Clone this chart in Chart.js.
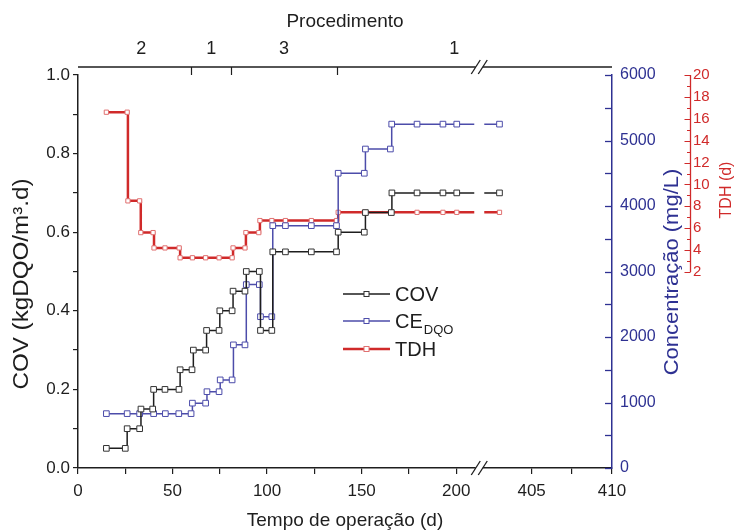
<!DOCTYPE html>
<html><head><meta charset="utf-8">
<script src="https://cdn.jsdelivr.net/npm/chart.js@4.4.1/dist/chart.umd.min.js"></script>
<style>html,body{margin:0;padding:0;background:#fff}</style>
</head><body>
<canvas id="c" width="740" height="532"></canvas>
<script>
// ---- data (days of operation, values) ----
const covDays = [15,25,26,32.6,33.3,39.5,40,46,53.4,54,60.3,61,67.5,68,74.6,75,81.5,82,88.3,89,95.9,96.5,102.5,103,109.7,123.4,136.7,137.6,151.4,152,165.7,166,179.3,193,200.3,403];
const covValues = [0.05,0.05,0.10,0.10,0.15,0.15,0.20,0.20,0.20,0.25,0.25,0.30,0.30,0.35,0.35,0.40,0.40,0.45,0.45,0.50,0.50,0.35,0.35,0.55,0.55,0.55,0.55,0.60,0.60,0.65,0.65,0.70,0.70,0.70,0.70,0.70];
const ceDays = [15,26,32.6,40,46.2,53.3,59.8,60.5,67.5,68.2,74.6,75.2,81.5,82.2,88.3,89,95.9,96.5,102.5,103,109.7,123.4,136.7,137.6,151.4,152,165.2,165.9,179.3,193,200.3,403];
const ceValues = [830,830,830,830,830,830,830,990,990,1165,1165,1345,1345,1880,1880,2800,2800,2310,2310,3700,3700,3700,3700,4500,4500,4870,4870,5250,5250,5250,5250,5250];
const tdhDays = [15,26,26.4,32.6,33.2,39.7,40.2,46,53.5,54,60.5,67.5,74.6,81.5,82,88.3,88.8,95.6,96.2,102.5,109.7,123.4,136.7,137.6,151.4,165.7,179.3,193,200.3,403];
const tdhValues = [16.6,16.6,8.5,8.5,5.6,5.6,4.2,4.2,4.2,3.3,3.3,3.3,3.3,3.3,4.2,4.2,5.6,5.6,6.7,6.7,6.7,6.7,6.7,7.45,7.45,7.45,7.45,7.45,7.45,7.45];

const xTickValues = [0,50,100,150,200,405,410];
const xTickLabels = ['0','50','100','150','200','405','410'];
const xMinorValues = [25,75,125,175,407.5];
const procLabels = ['2','1','3','1'];
const procLabelDays = [33.5,70.5,109,199];
const procBoundaries = [60,81,137];
const covTicks = [0,0.1,0.2,0.3,0.4,0.5,0.6,0.7,0.8,0.9,1.0];
const concTicks = [0,500,1000,1500,2000,2500,3000,3500,4000,4500,5000,5500,6000];
const tdhTicks = [2,3,4,5,6,7,8,9,10,11,12,13,14,15,16,17,18,19,20];

const seriesLabels = ['COV','CE','TDH'];
const ceSub = 'DQO';
const xTitle = 'Tempo de operação (d)';
const topTitle = 'Procedimento';
const yTitle = 'COV (kgDQO/m³.d)';
const concTitle = 'Concentração (mg/L)';
const tdhTitle = 'TDH (d)';

// broken x axis: 0..~212 then 400..410
const seg = {preEnd: 212.2, postStart: 405, postU: 239.9, postScale: 8.5};
function toU(d){ return d <= seg.preEnd ? d : seg.postU + (d - seg.postStart) * seg.postScale; }
const X_MAX = toU(410);

const FONT = "'Liberation Sans', Arial, Helvetica, sans-serif";
Chart.defaults.font.family = FONT;
const BLACK = '#1e1e1e', NAVY = '#2e3192', BLUE = '#4c4caa', RED = '#d02a2a';

function pts(days, vals){ return days.map((d,i)=>({x: toU(d), y: vals[i]})); }

function vText(ctx, text, cx, cy, size, color, stretch){
  ctx.save();
  ctx.translate(cx, cy); ctx.rotate(-Math.PI/2); ctx.scale(stretch, 1);
  ctx.fillStyle = color; ctx.font = size + 'px ' + FONT;
  ctx.textAlign = 'center'; ctx.textBaseline = 'middle';
  ctx.fillText(text, 0, 0);
  ctx.restore();
}

const custom = {
  id: 'custom',
  afterDatasetsDraw(chart){
    const {ctx, chartArea: a, scales: {x}} = chart;
    const bx = x.getPixelForValue(seg.preEnd);
    ctx.save();
    ctx.fillStyle = '#fff';
    ctx.fillRect(bx - 5, a.top, 10, a.bottom - a.top - 1);
    ctx.restore();
  },
  afterDraw(chart){
    const {ctx, chartArea: a, scales} = chart;
    const x = scales.x, yC = scales.yC, yT = scales.yT;
    ctx.save();
    // top procedure line
    const y0 = a.top - 8;
    ctx.strokeStyle = BLACK; ctx.lineWidth = 1.5;
    ctx.beginPath(); ctx.moveTo(a.left, y0); ctx.lineTo(a.right, y0); ctx.stroke();
    ctx.lineWidth = 1.2;
    procBoundaries.forEach(d => {
      const px = Math.round(x.getPixelForValue(toU(d))) + 0.5;
      ctx.beginPath(); ctx.moveTo(px, y0); ctx.lineTo(px, y0 + 8); ctx.stroke();
    });
    // break marks
    const bx = x.getPixelForValue(seg.preEnd);
    [y0, a.bottom].forEach(yy => {
      ctx.fillStyle = '#fff';
      ctx.fillRect(bx - 3.5, yy - 2, 7, 4);
      ctx.strokeStyle = BLACK; ctx.lineWidth = 1.3;
      [-3.5, 3.5].forEach(off => {
        ctx.beginPath(); ctx.moveTo(bx + off - 4.5, yy + 7); ctx.lineTo(bx + off + 4.5, yy - 7); ctx.stroke();
      });
    });
    // blue axis inward ticks
    ctx.strokeStyle = NAVY; ctx.lineWidth = 1.3;
    concTicks.forEach(v => {
      const py = Math.round(yC.getPixelForValue(v)) + 0.5;
      ctx.beginPath(); ctx.moveTo(a.right - 7, py); ctx.lineTo(a.right, py); ctx.stroke();
    });
    // red axis
    const rx = yT.left + 0.5;
    ctx.strokeStyle = RED; ctx.lineWidth = 1.3;
    ctx.beginPath(); ctx.moveTo(rx, yT.getPixelForValue(tdhTicks[0])); ctx.lineTo(rx, yT.getPixelForValue(tdhTicks[tdhTicks.length-1])); ctx.stroke();
    ctx.lineWidth = 1;
    tdhTicks.forEach(v => {
      const py = Math.round(yT.getPixelForValue(v)) + 0.5;
      const len = v % 2 === 0 ? 6 : 3.5;
      ctx.beginPath(); ctx.moveTo(rx - len, py); ctx.lineTo(rx, py); ctx.stroke();
    });
    // axis titles (rotated, reading upward)
    vText(ctx, yTitle, 22, 284, 22, BLACK, 1.1);
    vText(ctx, concTitle, 672, 272, 20, NAVY, 1.1);
    vText(ctx, tdhTitle, 727, 190, 16, RED, 1.0);
    // legend
    const lx = 343, lw = 47, tx = 395;
    const rows = [294, 321, 349];
    chart.data.datasets.forEach((ds, i) => {
      const yy = rows[i];
      ctx.strokeStyle = ds.borderColor; ctx.lineWidth = ds.borderWidth;
      ctx.beginPath(); ctx.moveTo(lx, yy); ctx.lineTo(lx + lw, yy); ctx.stroke();
      ctx.fillStyle = '#fff'; ctx.strokeStyle = ds.pointBorderColor; ctx.lineWidth = 1;
      ctx.fillRect(lx + lw/2 - 2.5, yy - 2.5, 5, 5); ctx.strokeRect(lx + lw/2 - 2.5, yy - 2.5, 5, 5);
      ctx.fillStyle = BLACK; ctx.textAlign = 'left'; ctx.textBaseline = 'alphabetic';
      ctx.font = '20px ' + FONT;
      ctx.fillText(ds.label, tx, yy + 7);
      if (i === 1) {
        const w = ctx.measureText(ds.label).width;
        ctx.font = '13px ' + FONT;
        ctx.fillText(ceSub, tx + w + 1, yy + 13);
      }
    });
    ctx.restore();
  }
};

new Chart(document.getElementById('c'), {
  type: 'line',
  data: { datasets: [
    { label: seriesLabels[0], data: pts(covDays, covValues), yAxisID: 'y', stepped: true,
      borderColor: BLACK, borderWidth: 1.5, pointStyle: 'rect', pointRadius: 4,
      pointBackgroundColor: '#fff', pointBorderColor: '#333', pointBorderWidth: 1, order: 1 },
    { label: seriesLabels[1], data: pts(ceDays, ceValues), yAxisID: 'yC', stepped: true,
      borderColor: BLUE, borderWidth: 1.5, pointStyle: 'rect', pointRadius: 4,
      pointBackgroundColor: '#fff', pointBorderColor: BLUE, pointBorderWidth: 1, order: 2 },
    { label: seriesLabels[2], data: pts(tdhDays, tdhValues), yAxisID: 'yT', stepped: true,
      borderColor: RED, borderWidth: 2.5, pointStyle: 'rect', pointRadius: 3,
      pointBackgroundColor: '#fff', pointBorderColor: '#e07070', pointBorderWidth: 1, order: 3 }
  ]},
  options: {
    responsive: false, animation: false, devicePixelRatio: 1,
    layout: { padding: 0 },
    plugins: { legend: { display: false }, tooltip: { enabled: false } },
    scales: {
      x: {
        type: 'linear', position: 'bottom', min: 0, max: X_MAX,
        afterBuildTicks: s => { s.ticks = xTickValues.concat(xMinorValues).map(toU).sort((p,q)=>p-q).map(v=>({value: v})); },
        ticks: { autoSkip: false, maxRotation: 0, padding: 7, color: BLACK, font: { size: 17 },
          callback: v => { const i = xTickValues.findIndex(t => Math.abs(toU(t) - v) < 1e-6); return i >= 0 ? xTickLabels[i] : ''; } },
        grid: { drawOnChartArea: false, drawTicks: true, tickLength: 6, color: BLACK, lineWidth: 1.2 },
        border: { color: BLACK, width: 1.5 },
        title: { display: true, text: xTitle, color: BLACK, font: { size: 19 }, padding: { top: 0, bottom: 0 } },
        afterFit: s => { s.height = 64; }
      },
      xTop: {
        type: 'linear', position: 'top', min: 0, max: X_MAX,
        afterBuildTicks: s => { s.ticks = procLabelDays.map(d => ({value: toU(d)})); },
        ticks: { autoSkip: false, maxRotation: 0, padding: 7, color: BLACK, font: { size: 18 },
          callback: (v, i) => procLabels[i] },
        grid: { display: false }, border: { display: false },
        title: { display: true, text: topTitle, color: BLACK, font: { size: 19 }, padding: { top: 10, bottom: 0 } },
        afterFit: s => { s.height = 75; }
      },
      y: {
        position: 'left', min: 0, max: 1,
        afterBuildTicks: s => { s.ticks = covTicks.map(v => ({value: v})); },
        ticks: { autoSkip: false, padding: 3, color: BLACK, font: { size: 17 },
          callback: v => (Math.round(v * 10) % 2 === 0 ? v.toFixed(1) : '') },
        grid: { drawOnChartArea: false, drawTicks: true, tickLength: 5, color: BLACK, lineWidth: 1.2 },
        border: { color: BLACK, width: 1.5 },
        afterFit: s => { s.width = 78; }
      },
      yC: {
        position: 'right', min: 0, max: 6000, weight: 0,
        afterBuildTicks: s => { s.ticks = concTicks.map(v => ({value: v})); },
        ticks: { autoSkip: false, padding: 8, color: NAVY, font: { size: 16 },
          callback: v => (v % 1000 === 0 ? String(v) : '') },
        grid: { display: false, drawTicks: false },
        border: { color: NAVY, width: 1.5 },
        afterFit: s => { s.width = 78; }
      },
      yT: {
        position: 'right', min: 2 - 196 / (197 / 18), max: 20, weight: 1,
        afterBuildTicks: s => { s.ticks = tdhTicks.map(v => ({value: v})); },
        ticks: { autoSkip: false, padding: 3, color: RED, font: { size: 15 },
          callback: v => (v % 2 === 0 ? String(v) : '') },
        grid: { display: false, drawTicks: false }, border: { display: false },
        afterFit: s => { s.width = 50; }
      }
    }
  },
  plugins: [custom]
});
</script>
</body></html>
